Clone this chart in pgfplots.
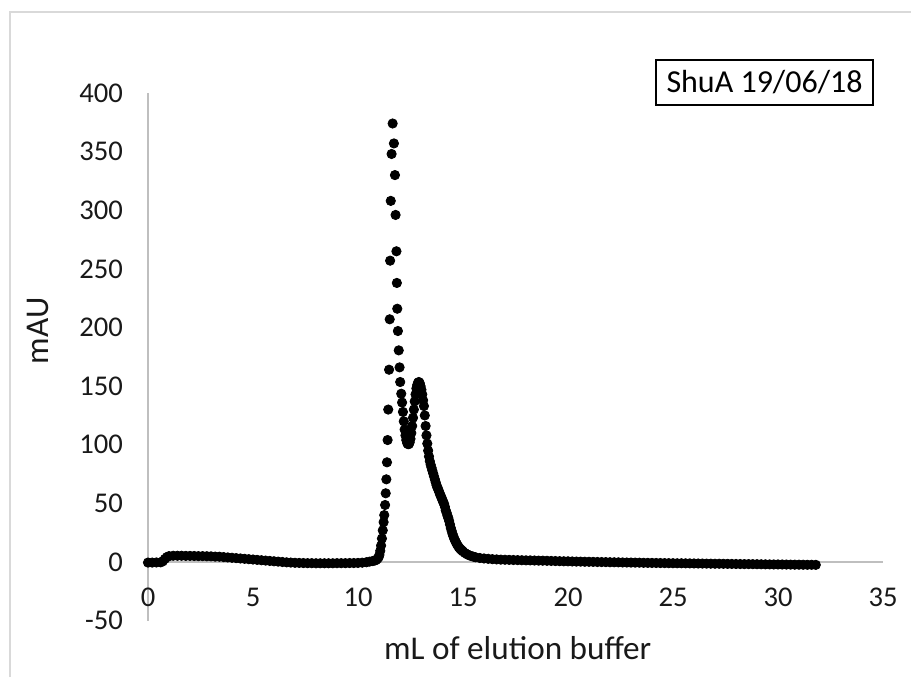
\documentclass[border=0pt]{standalone}
\usepackage{pgfplots}
\pgfplotsset{compat=1.18}
\usepackage{pgfplotstable}
\usepackage{fontspec}
\setmainfont{Carlito}
\pgfplotstableread{
x y
0.0 -0.5
0.2 -0.5
0.4 -0.4
0.6 -0.3
0.7 0.5
0.8 2.5
0.9 4.2
1.0 5.0
1.2 5.3
1.4 5.3
1.6 5.3
1.8 5.2
2.0 5.2
2.2 5.1
2.4 5.0
2.6 5.0
2.8 4.9
3.0 4.8
3.2 4.6
3.4 4.5
3.6 4.2
3.8 3.9
4.0 3.6
4.2 3.3
4.4 3.0
4.6 2.7
4.8 2.4
5.0 2.1
5.2 1.8
5.4 1.5
5.6 1.2
5.8 0.9
6.0 0.6
6.2 0.3
6.4 0.0
6.6 -0.3
6.8 -0.5
7.0 -0.7
7.2 -0.8
7.4 -0.9
7.6 -1.0
7.8 -1.0
8.0 -1.1
8.2 -1.1
8.4 -1.1
8.6 -1.1
8.8 -1.1
9.0 -1.0
9.2 -1.0
9.4 -1.0
9.6 -0.9
9.8 -0.9
10.0 -0.8
10.2 -0.6
10.4 -0.2
10.55 0.3
10.7 0.8
10.8 1.2
10.87 1.8
10.93 2.8
10.98 4.0
11.02 6.0
11.06 9.5
11.10 14
11.14 20
11.18 27
11.22 34
11.25 40
11.29 48.6
11.32 58.6
11.35 70.5
11.38 85
11.41 104
11.44 130
11.48 164
11.51 207
11.53 257
11.56 308
11.60 348
11.65 374
11.71 357
11.76 330
11.79 296
11.83 265
11.85 238
11.87 216
11.90 197
11.94 180.5
11.98 166
12.01 153.5
12.06 143.5
12.10 136
12.14 128
12.18 120
12.22 113
12.26 108
12.30 104
12.34 101.5
12.38 100.5
12.42 100.5
12.46 102
12.50 105
12.54 110
12.58 116
12.62 123
12.66 130
12.70 137
12.74 143
12.78 148
12.82 151
12.86 153
12.90 153.5
12.94 152.5
12.98 150
13.02 147
13.06 143
13.10 138
13.14 133
13.18 125
13.22 116
13.26 108
13.30 101
13.34 95
13.38 90
13.42 86
13.46 83
13.50 80.5
13.54 78
13.58 75.5
13.62 73
13.66 70.5
13.70 68
13.74 65.5
13.78 63.5
13.82 62
13.86 60
13.90 58
13.94 56.5
13.98 54.5
14.02 53
14.06 51
14.10 49.5
14.14 47
14.18 44
14.22 42
14.26 39.5
14.30 37.5
14.34 35
14.38 32
14.42 29
14.46 26.5
14.50 24
14.54 22
14.58 20
14.62 18.5
14.66 17
14.70 15.5
14.75 14
14.80 12.6
14.85 11.5
14.90 10.6
14.95 9.8
15.00 9.0
15.10 7.6
15.20 6.5
15.30 5.7
15.40 5.0
15.50 4.5
15.60 4.0
15.8 3.4
16.0 3.0
16.2 2.7
16.4 2.4
16.6 2.2
16.8 2.0
17.0 1.9
17.2 1.8
17.4 1.7
17.6 1.6
17.8 1.5
18.0 1.4
18.2 1.35
18.4 1.25
18.6 1.15
18.8 1.1
19.0 1.0
19.2 0.9
19.4 0.8
19.6 0.7
19.8 0.6
20.0 0.55
20.2 0.45
20.4 0.35
20.6 0.3
20.8 0.2
21.0 0.15
21.2 0.1
21.4 0.0
21.6 -0.05
21.8 -0.1
22.0 -0.2
22.2 -0.25
22.4 -0.3
22.6 -0.4
22.8 -0.45
23.0 -0.5
23.2 -0.55
23.4 -0.6
23.6 -0.7
23.8 -0.75
24.0 -0.8
24.2 -0.85
24.4 -0.9
24.6 -0.95
24.8 -1.0
25.0 -1.05
25.2 -1.1
25.4 -1.1
25.6 -1.15
25.8 -1.2
26.0 -1.25
26.2 -1.3
26.4 -1.35
26.6 -1.4
26.8 -1.45
27.0 -1.5
27.2 -1.5
27.4 -1.55
27.6 -1.6
27.8 -1.65
28.0 -1.7
28.2 -1.75
28.4 -1.8
28.6 -1.8
28.8 -1.85
29.0 -1.9
29.2 -1.95
29.4 -2.0
29.6 -2.05
29.8 -2.1
30.0 -2.1
30.2 -2.15
30.4 -2.2
30.6 -2.25
30.8 -2.3
31.0 -2.3
31.2 -2.35
31.4 -2.4
31.6 -2.4
31.8 -2.45
}\datatable
\begin{document}
\begin{tikzpicture}
\path[use as bounding box] (-74pt,-28.2pt) rectangle (381.5pt,310.3pt);
\draw[black!15, line width=0.8pt] (-69pt,-28.2pt) -- (-69pt,304.3pt) -- (381.5pt,304.3pt);
\begin{axis}[
  at={(0pt,0pt)}, anchor=south west,
  scale only axis,
  width=367.5pt, height=263.8pt,
  xmin=0, xmax=35, ymin=-50, ymax=400,
  axis x line=middle, axis y line=left,
  every inner x axis line/.append style={-},
  every inner y axis line/.append style={-},
  every outer x axis line/.append style={-},
  every outer y axis line/.append style={-},
  axis line style={black!25, line width=0.75pt},
  xtick={0,5,...,35}, ytick={-50,0,50,...,400},
  major tick length=0pt,
  hide obscured x ticks=false, hide obscured y ticks=false,
  /pgf/number format/assume math mode=true,
  tick label style={font=\fontsize{14.3}{16}\selectfont, text=black!90},
  xticklabel style={anchor=north, yshift=-9.5pt},
  yticklabel style={anchor=east, xshift=-9pt},
  clip=false,
  xlabel={mL of elution buffer},
  ylabel={mAU},
  xlabel style={at={(axis description cs:0.503,-0.052)}, anchor=center, font=\fontsize{16.6}{18}\selectfont, text=black!90},
  ylabel style={at={(axis description cs:-0.150,0.549)}, anchor=center, rotate=0, font=\fontsize{16.6}{18}\selectfont, text=black!90},
]
\addplot[only marks, mark=*, mark size=2.33pt, draw=black, fill=black] table[x=x, y=y] {\datatable};
\node[draw=black, line width=0.75pt, minimum width=108.5pt, minimum height=22.5pt, inner sep=0pt, font=\fontsize{16}{18}\selectfont, text=black] at (axis cs:29.36,409) {ShuA 19/06/18};
\end{axis}
\end{tikzpicture}
\end{document}
